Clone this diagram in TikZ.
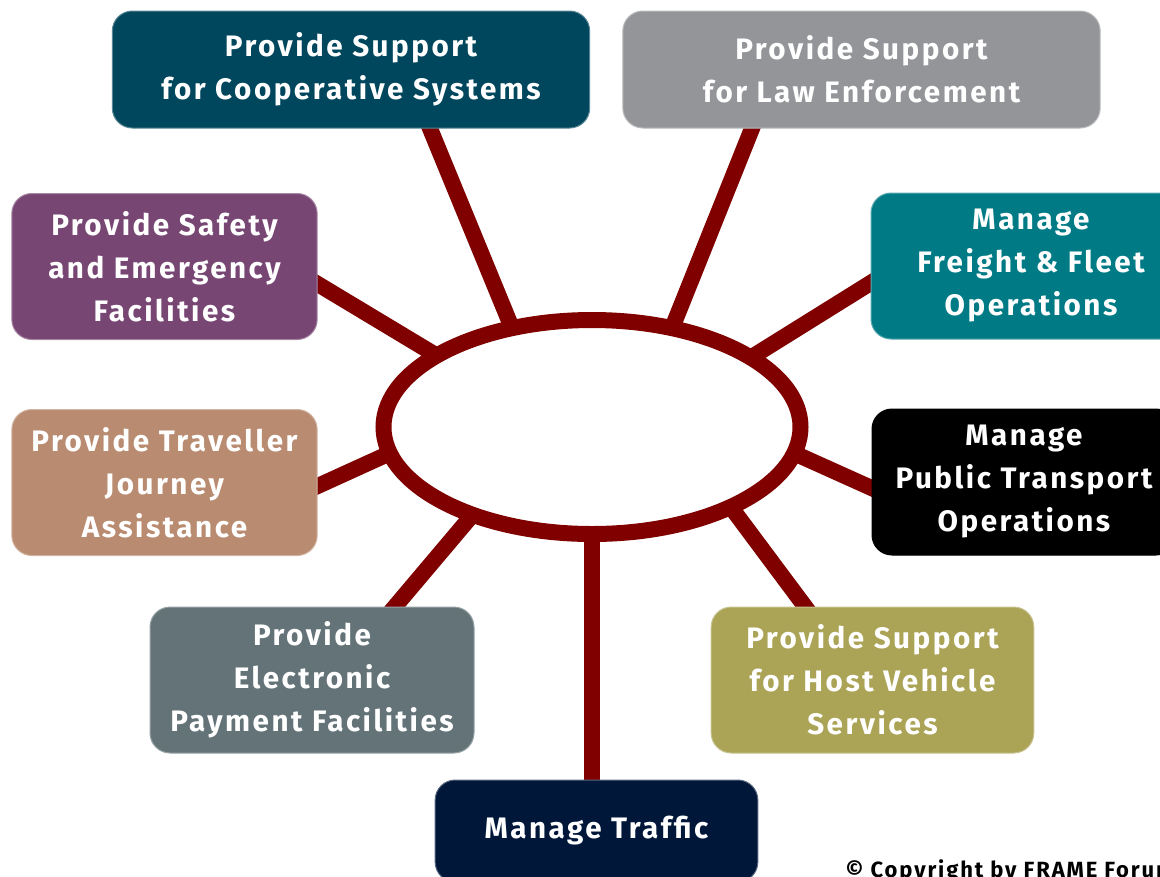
\documentclass[tikz,border=0pt]{standalone}
\usepackage{fontspec}
\setmainfont{Fira Sans}
\newfontfamily\boxfont{Fira Sans}[LetterSpace=8.5]
\usetikzlibrary{shapes.geometric}
\usetikzlibrary{calc}
\usetikzlibrary{backgrounds}

\definecolor{spokered}{RGB}{128,0,0}
\definecolor{coopteal}{RGB}{0,70,92}
\definecolor{lawgray}{RGB}{147,149,152}
\definecolor{safetypurple}{RGB}{119,70,115}
\definecolor{freightteal}{RGB}{0,123,133}
\definecolor{travellertan}{RGB}{185,139,112}
\definecolor{publicblack}{RGB}{0,0,0}
\definecolor{paymentslate}{RGB}{99,115,120}
\definecolor{hostolive}{RGB}{171,163,86}
\definecolor{trafficnavy}{RGB}{0,23,58}

\begin{document}
\begin{tikzpicture}[x=0.75pt,y=0.75pt,yscale=-1,xscale=1,
  areabox/.style={rounded corners=15pt, fill=#1, draw=#1!65!white, line width=0.75pt,
    text=white, align=center, inner sep=0pt,
    font=\boxfont\bfseries\fontsize{22.2}{32.25}\selectfont},
  widebox/.style={areabox=#1, minimum width=358pt, minimum height=87.75pt},
  smallbox/.style={areabox=#1, minimum width=240pt, minimum height=109.5pt},
  spoke/.style={draw=spokered, line width=12pt, shorten <=-10pt, shorten >=-10pt}]
\useasboundingbox (0,0) rectangle (1160,876);

%Shape: Ellipse [id:hub]
\node (hub) [ellipse, draw=spokered, line width=12pt, fill=white, inner sep=0pt,
  minimum width=312.75pt, minimum height=160.5pt] at (592,427) {};

%Shape: Rounded Rect [id:coop]
\node (coop) [widebox=coopteal] at (351,69.5) {Provide Support\\for Cooperative Systems};
%Shape: Rounded Rect [id:law]
\node (law) [widebox=lawgray] at (861.5,69.5) {Provide Support\\for Law Enforcement};
%Shape: Rounded Rect [id:safety]
\node (safety) [smallbox=safetypurple, minimum width=229pt] at (164.5,266.5) {Provide Safety\\and Emergency\\Facilities};
%Shape: Rounded Rect [id:freight]
\node (freight) [smallbox=freightteal] at (1031,266) {Manage\\Freight \& Fleet\\Operations};
%Shape: Rounded Rect [id:traveller]
\node (traveller) [smallbox=travellertan, minimum width=229pt] at (164.5,482.5) {Provide Traveller\\Journey\\Assistance};
%Shape: Rounded Rect [id:public]
\node (public) [smallbox=publicblack, draw=black, minimum width=228pt] at (1024,482) {Manage\\Public Transport\\Operations};
%Shape: Rounded Rect [id:payment]
\node (payment) [smallbox=paymentslate, minimum width=243pt] at (312,680) {Provide\\Electronic\\Payment Facilities};
%Shape: Rounded Rect [id:host]
\node (host) [smallbox=hostolive, minimum width=242pt] at (872.5,680) {Provide Support\\for Host Vehicle\\Services};
%Shape: Rounded Rect [id:traffic]
\node (traffic) [smallbox=trafficnavy, minimum width=242pt, minimum height=76.5pt] at (596.5,831) {Manage Traffic};

% Text Node
\node (copyright) [anchor=base west, font=\boxfont\bfseries\fontsize{16.5}{18}\selectfont] at (841,877) {© Copyright by FRAME Forum};

%Straight Lines: spokes
\begin{scope}[on background layer]
\draw [spoke] (hub.128) -- ($(coop.south)+(79,0)$);
\draw [spoke] (hub.52) -- ($(law.south)+(-109.5,0)$);
\draw [spoke] (hub.155) -- ($(safety.east)+(0,17.5)$);
\draw [spoke] (hub.24) -- ($(freight.west)+(0,17)$);
\draw [spoke] (hub.188) -- ($(traveller.east)+(0,3.5)$);
\draw [spoke] (hub.352) -- ($(public.west)+(0,6)$);
\draw [spoke] (hub.217) -- ($(payment.north)+(83,0)$);
\draw [spoke] (hub.329) -- ($(host.north)+(-67.5,0)$);
\draw [spoke] (hub.south) -- (hub.south |- traffic.north);
\end{scope}

\end{tikzpicture}
\end{document}
